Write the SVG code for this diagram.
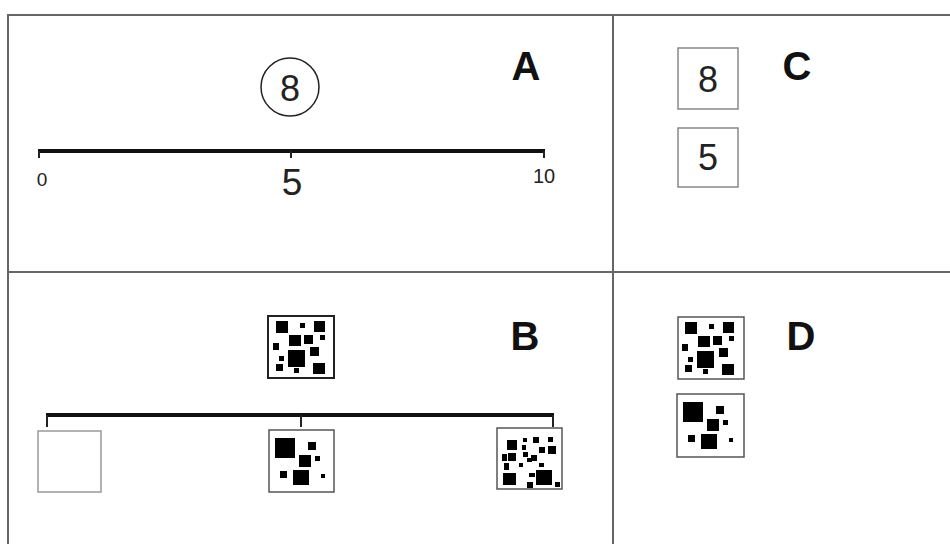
<svg xmlns="http://www.w3.org/2000/svg" width="950" height="544" viewBox="0 0 950 544">
<style>
.frame{stroke:#666;stroke-width:2;fill:none}
.axis{stroke:#111;stroke-width:4;fill:none}
.tick{stroke:#222;stroke-width:2;fill:none}
.lbl{font-family:"Liberation Sans",Arial,sans-serif;font-weight:bold;font-size:40px;fill:#111;text-anchor:middle}
.num{font-family:"Liberation Sans",Arial,sans-serif;fill:#222;text-anchor:middle}
.box{fill:#fff;stroke:#888;stroke-width:1.5}
.pbox{fill:#fff;stroke:#555;stroke-width:1.5}
.dots rect{fill:#000}
</style>
<defs>
<g id="p1" class="dots">
<rect x="8" y="5" width="12" height="12"/>
<rect x="32" y="7" width="5" height="5"/>
<rect x="46" y="5" width="11" height="11"/>
<rect x="21" y="19" width="12" height="11"/>
<rect x="36" y="19" width="9" height="9"/>
<rect x="52" y="19" width="5" height="5"/>
<rect x="5" y="27" width="6" height="7"/>
<rect x="42" y="31" width="9" height="9"/>
<rect x="20" y="34" width="17" height="17"/>
<rect x="11" y="40" width="5" height="5"/>
<rect x="8" y="48" width="7" height="7"/>
<rect x="26" y="52" width="5" height="5"/>
<rect x="45" y="47" width="12" height="11"/>
</g>
<g id="p2" class="dots">
<rect x="6" y="8" width="20" height="20"/>
<rect x="39" y="12" width="8" height="8"/>
<rect x="30" y="25" width="12" height="12"/>
<rect x="46" y="26" width="5" height="5"/>
<rect x="11" y="41" width="7" height="7"/>
<rect x="24" y="40" width="16" height="15"/>
<rect x="52" y="44" width="4" height="4"/>
</g>
</defs>

<g id="frame">
<path class="frame" d="M8 544 V15 H950"/>
<path class="frame" d="M613 15 V544"/>
<path class="frame" d="M8 272 H950"/>
</g>

<g id="panelA">
<circle cx="290" cy="87" r="29" fill="#fff" stroke="#222" stroke-width="1.5"/>
<text class="num" x="290" y="101" font-size="36">8</text>
<text class="lbl" x="526" y="80">A</text>
<line class="axis" x1="38" y1="151" x2="545" y2="151"/>
<line class="tick" x1="39" y1="151" x2="39" y2="158"/>
<line class="tick" x1="291" y1="151" x2="291" y2="158"/>
<line class="tick" x1="544" y1="151" x2="544" y2="158"/>
<text class="num" x="42" y="186" font-size="19">0</text>
<text class="num" x="292" y="195" font-size="37">5</text>
<text class="num" x="544" y="183" font-size="20">10</text>
</g>

<g id="panelC">
<rect class="box" x="678" y="48" width="60" height="61"/>
<text class="num" x="708" y="92" font-size="36">8</text>
<rect class="box" x="678" y="128" width="60" height="59"/>
<text class="num" x="708" y="170" font-size="36">5</text>
<text class="lbl" x="797" y="80">C</text>
</g>

<g id="panelB">
<text class="lbl" x="525" y="350">B</text>
<rect x="268" y="316" width="66" height="62" fill="#fff" stroke="#222" stroke-width="2"/>
<use href="#p1" x="268" y="316"/>
<line class="axis" x1="46" y1="415" x2="554" y2="415"/>
<line class="tick" x1="47" y1="415" x2="47" y2="427"/>
<line class="tick" x1="301" y1="415" x2="301" y2="427"/>
<line class="tick" x1="553" y1="415" x2="553" y2="427"/>
<rect x="38" y="431" width="63" height="61" fill="#fff" stroke="#999" stroke-width="1.5"/>
<rect class="pbox" x="269" y="430" width="65" height="62"/>
<use href="#p2" x="269" y="430"/>
<rect class="pbox" x="497" y="428" width="65" height="61"/>
<g class="dots">
<rect x="507" y="440" width="10" height="10"/>
<rect x="523" y="438" width="4" height="4"/>
<rect x="533" y="437" width="6" height="6"/>
<rect x="548" y="437" width="5" height="5"/>
<rect x="539" y="447" width="6" height="6"/>
<rect x="548" y="446" width="8" height="8"/>
<rect x="522" y="445" width="4" height="5"/>
<rect x="502" y="454" width="5" height="7"/>
<rect x="508" y="453" width="8" height="8"/>
<rect x="523" y="452" width="5" height="5"/>
<rect x="527" y="458" width="5" height="4"/>
<rect x="531" y="455" width="6" height="6"/>
<rect x="504" y="463" width="5" height="7"/>
<rect x="519" y="463" width="4" height="4"/>
<rect x="539" y="463" width="5" height="4"/>
<rect x="503" y="473" width="13" height="12"/>
<rect x="529" y="473" width="6" height="4"/>
<rect x="536" y="470" width="16" height="15"/>
<rect x="527" y="482" width="6" height="6"/>
<rect x="555" y="482" width="5" height="5"/>
</g>
</g>

<g id="panelD">
<text class="lbl" x="801" y="350">D</text>
<rect class="pbox" x="678" y="317" width="66" height="62"/>
<use href="#p1" x="677" y="317"/>
<rect class="pbox" x="677" y="394" width="67" height="63"/>
<use href="#p2" x="677" y="394"/>
</g>
</svg>
